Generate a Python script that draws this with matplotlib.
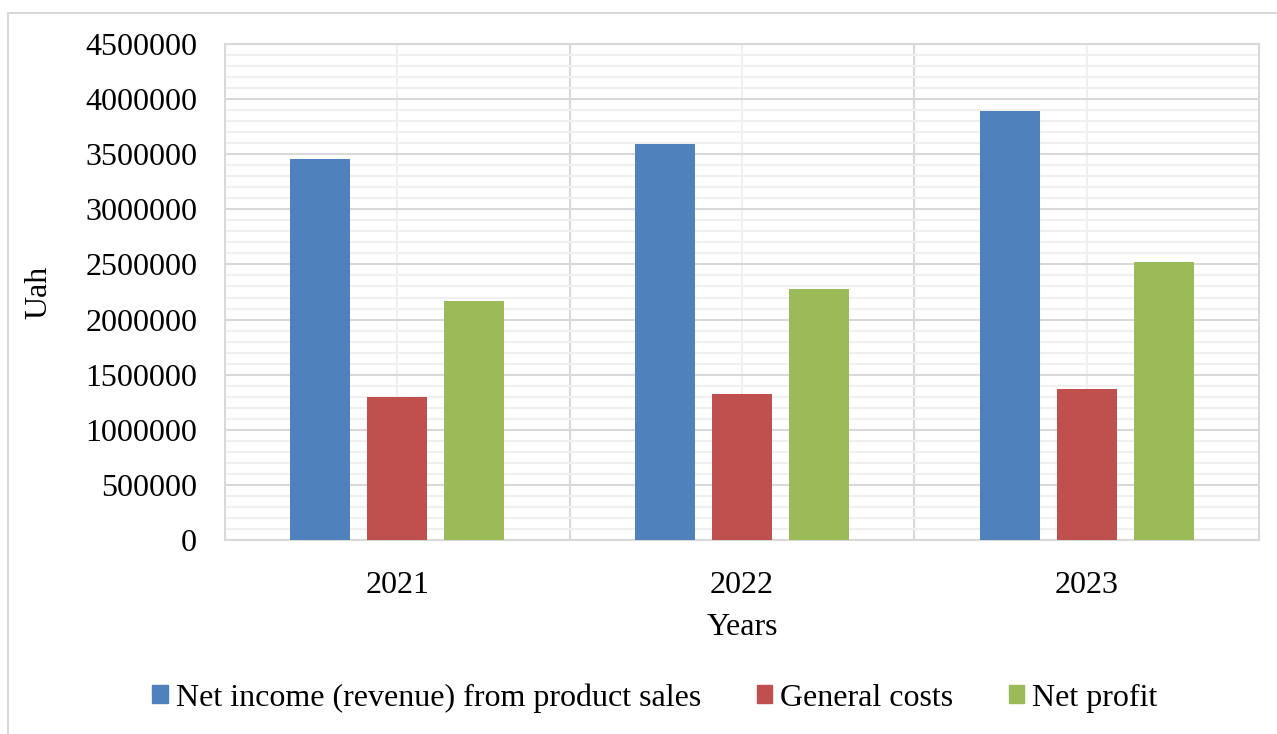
import matplotlib.pyplot as plt
import numpy as np
from matplotlib.lines import Line2D
from matplotlib.ticker import MultipleLocator, StrMethodFormatter

plt.rcParams['font.family'] = ['Liberation Serif', 'DejaVu Serif']

years = ['2021', '2022', '2023']
series_names = ['Net income (revenue) from product sales', 'General costs', 'Net profit']
revenue = [3455000, 3595000, 3890000]
costs = [1297000, 1325000, 1370000]
profit = [2165000, 2275000, 2520000]
colors = ['#4f81bd', '#c0504d', '#9bbb59']

fig = plt.figure(figsize=(12.77, 7.34), dpi=100)
ax = fig.add_axes([225 / 1277, 1 - 540 / 734, (1259 - 225) / 1277, (540 - 44) / 734])

x = np.arange(len(years))
width = 0.174
step = 0.223
for i, (vals, name) in enumerate(zip([revenue, costs, profit], series_names)):
    ax.bar(x + (i - 1) * step, vals, width, color=colors[i], label=name, zorder=3)

ax.set_xlim(-0.5, 2.5)
ax.set_ylim(0, 4500000)
ax.yaxis.set_major_locator(MultipleLocator(500000))
ax.yaxis.set_minor_locator(MultipleLocator(100000))
ax.yaxis.set_major_formatter(StrMethodFormatter('{x:.0f}'))
ax.set_xticks(x)
ax.set_xticklabels(years)
ax.set_xticks([0.5, 1.5], minor=True)

# light grid like the spreadsheet original
ax.grid(which='major', axis='y', color='#d9d9d9', lw=1.5, zorder=1)
ax.grid(which='minor', axis='y', color='#f0f0f0', lw=1.5, zorder=0)
ax.grid(which='minor', axis='x', color='#d9d9d9', lw=1.5, zorder=1)
ax.grid(which='major', axis='x', color='#f0f0f0', lw=1.5, zorder=0)
ax.tick_params(which='both', length=0, labelsize=23, colors='black')
ax.tick_params(axis='x', pad=22)
ax.tick_params(axis='y', pad=20)
for side in ['left', 'bottom', 'right', 'top']:
    ax.spines[side].set_color('#d9d9d9')
    ax.spines[side].set_linewidth(1.5)

ax.set_ylabel('Uah', fontsize=23)
ax.yaxis.set_label_coords(-172 / 1034, 0.5)
ax.set_xlabel('Years', fontsize=23, labelpad=10)

handles = [plt.Rectangle((0, 0), 1, 1, color=c) for c in colors]
fig.legend(handles, series_names, loc='center', bbox_to_anchor=(655 / 1277, 1 - 698 / 734),
           ncol=3, frameon=False, fontsize=23, handlelength=0.48, handleheight=0.48,
           handletextpad=0.25, columnspacing=1.75)

# outer chart frame (top and left edges visible)
fig.add_artist(Line2D([8 / 1277, 1.0], [1 - 13 / 734] * 2, color='#d9d9d9', lw=1.5))
fig.add_artist(Line2D([8 / 1277] * 2, [0, 1 - 13 / 734], color='#d9d9d9', lw=1.5))

fig.savefig('out.png', dpi=100)
